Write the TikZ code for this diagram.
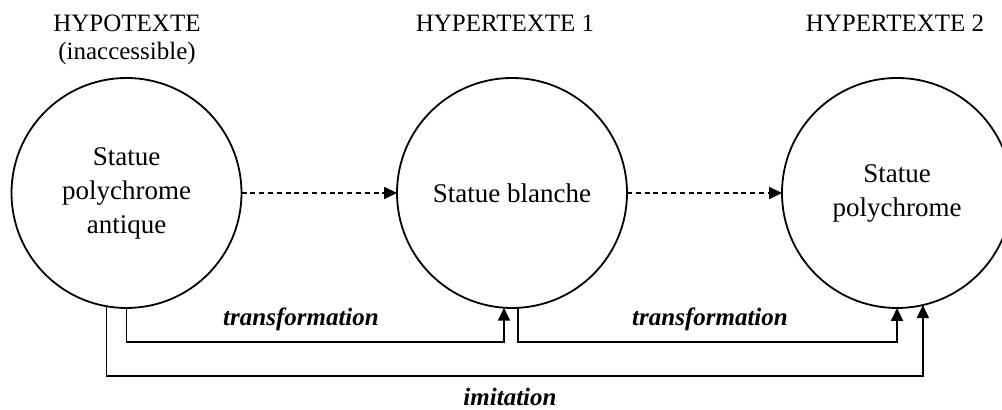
\documentclass[tikz,border=0pt]{standalone}
\usepackage{fontspec}
\setmainfont{Liberation Serif}
\usetikzlibrary{arrows.meta}
\tikzset{
  hyper diagram/.style={
    draw=black, line width=0.9pt,
    >={Triangle[length=6.5pt,width=6pt]},
    every node/.style={font=\fontsize{12.5}{14}\selectfont,
      text=black, inner sep=0pt, outer sep=0pt},
    x=0.5pt, y=-0.5pt
  },
  hyper circle/.style={draw, circle, minimum size=115pt, align=center,
    font=\fontsize{13.5}{17}\selectfont},
  hyper title/.style={anchor=north, align=center},
  hyper dash/.style={->, dash pattern=on 2.5pt off 1.9pt},
  hyper link/.style={->},
  hyper label/.style={anchor=base,
    font=\fontsize{12.5}{14}\selectfont\bfseries\itshape}
}

\begin{document}
\begin{tikzpicture}[hyper diagram]
    \useasboundingbox (0,0) rectangle (1002,410);
    % titles
    \node[hyper title] (hypoT) at (127,15) {HYPOTEXTE\\(inaccessible)};
    \node[hyper title] (hyper1T) at (505,15) {HYPERTEXTE 1};
    \node[hyper title] (hyper2T) at (895,15) {HYPERTEXTE 2};
    % statues
    \node[hyper circle] (hypo) at (126.5,193) {Statue\\polychrome\\antique};
    \node[hyper circle] (hyper1) at (512,193) {Statue blanche};
    \node[hyper circle] (hyper2) at (897,193) {Statue\\polychrome};
    \draw[hyper dash] (hypo) -- (hyper1);
    \draw[hyper dash] (hyper1) -- (hyper2);
    % rails below
    \coordinate (trRail) at (0,342);
    \coordinate (imRail) at (0,376);
    \draw[hyper link] (hypo.south) |- (hyper1.266 |- trRail) -- (hyper1.266);
    \draw[hyper link] (hyper1.273) |- (hyper2.south |- trRail) -- (hyper2.south);
    \draw[hyper link] (hypo.260) |- (hyper2.283 |- imRail) -- (hyper2.283);
    \node[hyper label] (transA) at (301,326) {transformation};
    \node[hyper label] (transB) at (710,326) {transformation};
    \node[hyper label] (imit) at (510,406) {imitation};
  \end{tikzpicture}
\end{document}
